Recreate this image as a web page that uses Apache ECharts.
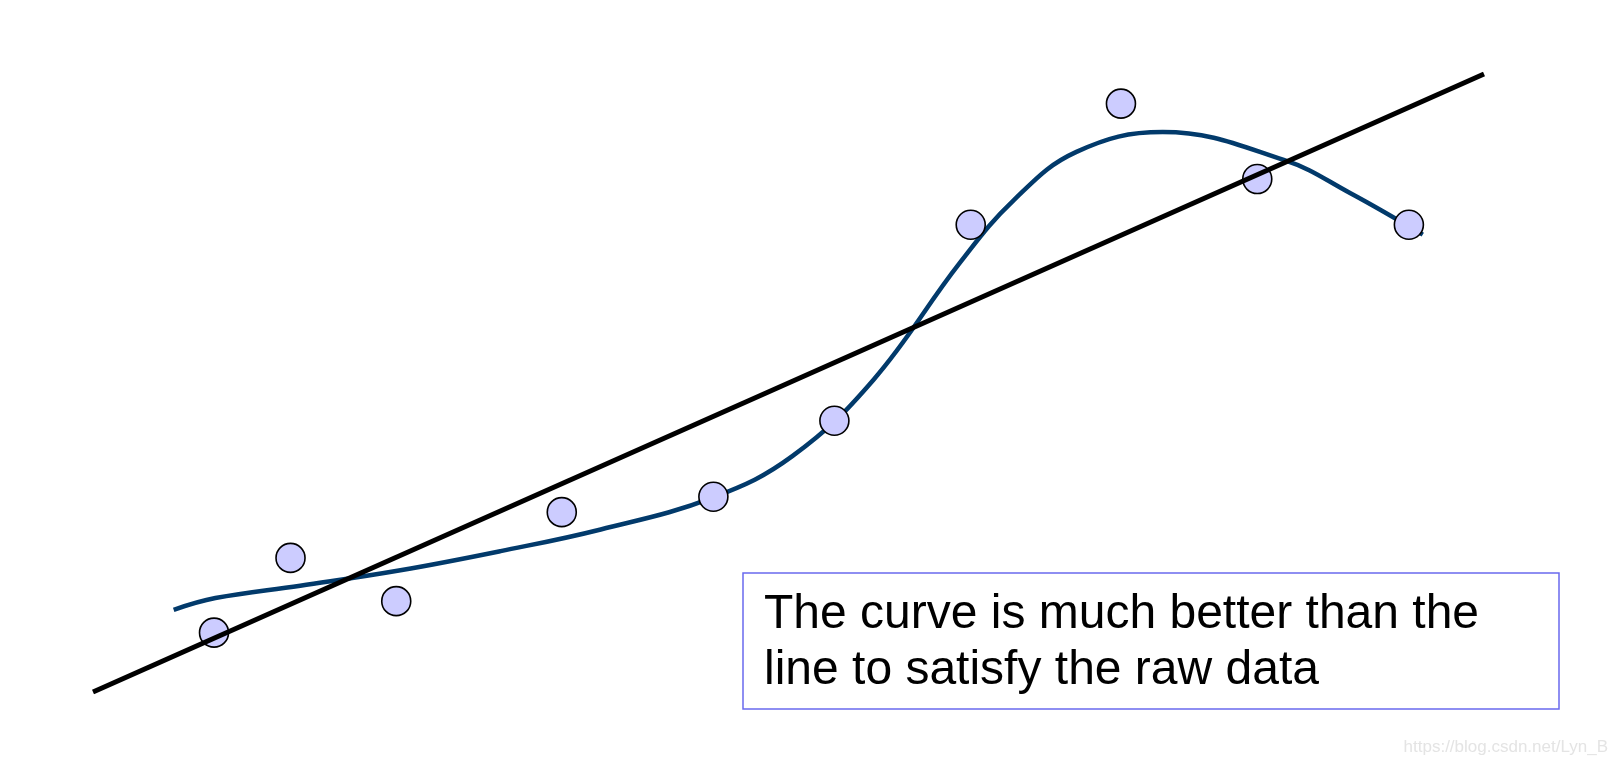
<!DOCTYPE html>
<html>
<head>
<meta charset="utf-8">
<script src="https://cdn.jsdelivr.net/npm/echarts@6/dist/echarts.min.js"></script>
<style>
html,body{margin:0;padding:0;background:#fff;}
#chart{width:1618px;height:765px;}
</style>
</head>
<body>
<div id="chart"></div>
<script>
// Raw data points (x, y) in abstract units
const rawX = [0.87, 1.42, 2.18, 3.37, 4.46, 5.33, 6.31, 7.39, 8.37, 9.46];
const rawY = [0.96, 2.17, 1.47, 2.91, 3.16, 4.39, 7.56, 9.52, 8.30, 7.56];

// Fitted curve
const curveX = [0.58, 0.88, 1.49, 2.21, 2.93, 3.65, 4.46, 5.03, 5.61, 6.23, 6.62, 7.07, 7.69, 8.56, 9.04, 9.56];
const curveY = [1.33, 1.52, 1.72, 1.97, 2.28, 2.63, 3.15, 3.82, 5.05, 6.94, 7.96, 8.74, 9.06, 8.61, 8.07, 7.40];

// Fitted straight line (endpoints)
const lineX = [0, 10];
const lineY = [0, 10];

const noteText = ['The curve is much better than the', 'line to satisfy the raw data'];
const watermark = 'https://blog.csdn.net/Lyn_B';

const zip = (xs, ys) => xs.map((x, i) => [x, ys[i]]);

const chart = echarts.init(document.getElementById('chart'), null, {renderer: 'canvas'});
chart.setOption({
  animation: false,
  backgroundColor: '#ffffff',
  grid: {left: 93, right: 134, top: 74, bottom: 73},
  xAxis: {type: 'value', min: 0, max: 10, show: false},
  yAxis: {type: 'value', min: 0, max: 10, show: false},
  series: [
    {
      type: 'line',
      data: zip(curveX, curveY),
      smooth: 0.4,
      showSymbol: false,
      symbol: 'none',
      lineStyle: {color: '#023a6b', width: 4.5},
      z: 1
    },
    {
      type: 'scatter',
      data: zip(rawX, rawY),
      symbolSize: 29,
      itemStyle: {color: '#ccccff', borderColor: '#000000', borderWidth: 1.6, opacity: 1},
      z: 2
    },
    {
      type: 'line',
      data: zip(lineX, lineY),
      symbol: 'none',
      lineStyle: {color: '#000000', width: 5},
      z: 3
    }
  ],
  graphic: [
    {
      type: 'rect',
      shape: {x: 743, y: 573, width: 816, height: 136},
      style: {fill: 'none', stroke: '#6a6aee', lineWidth: 1.5},
      z: 10
    },
    {
      type: 'text',
      x: 764,
      y: 587,
      style: {
        text: noteText.join('\n'),
        font: '48px "Liberation Sans", Arial, sans-serif',
        fill: '#000000',
        lineHeight: 56,
        verticalAlign: 'top',
        align: 'left'
      },
      z: 11
    },
    {
      type: 'text',
      x: 1608,
      y: 747,
      style: {
        text: watermark,
        font: '17px "Liberation Sans", Arial, sans-serif',
        fill: '#e4e4e4',
        align: 'right',
        verticalAlign: 'middle'
      },
      z: 11
    }
  ]
});
</script>
</body>
</html>
